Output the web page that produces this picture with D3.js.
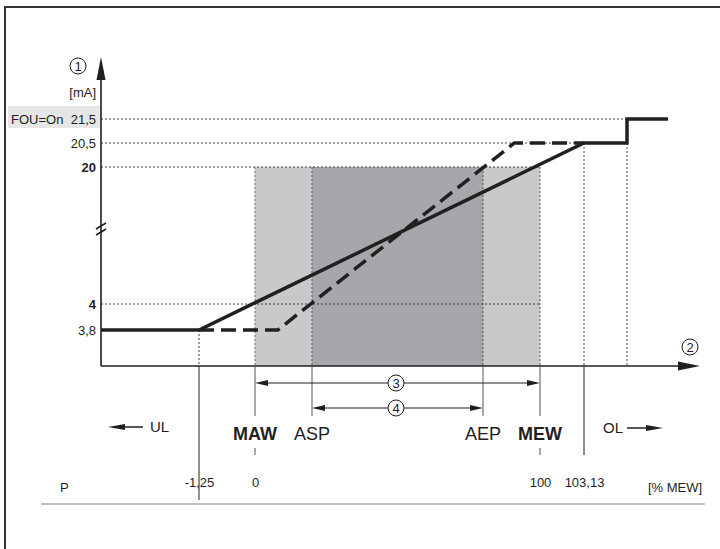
<!DOCTYPE html>
<html><head><meta charset="utf-8">
<script src="https://cdn.jsdelivr.net/npm/d3@7"></script>
<style>
html,body{margin:0;padding:0;background:#fff;}
svg{display:block;}
text{font-family:"Liberation Sans",Arial,sans-serif;fill:#231f20;}
.nar{font-family:"Liberation Sans Narrow","Arial Narrow","Liberation Sans",sans-serif;}
</style></head>
<body>
<svg id="c" width="720" height="549"></svg>
<script>
// ---- data ----
const yTicks = [3.8, 4, 20, 20.5, 21.5];
const yTickLabels = ["3,8", "4", "20", "20,5", "21,5"];
const yTickBold = [false, true, true, false, false];
const pTicks = [-1.25, 0, 100, 103.13];
const pLabels = ["-1,25", "0", "100", "103,13"];
const markerLabels = ["MAW", "ASP", "AEP", "MEW"];
const markerPos = [0, 20, 80, 100];
const markerBold = [true, false, false, true];
// characteristic curves (x in % MEW, schematic; y in mA)
const solidX = [-25, -1.25, 103.13, 110, 110, 115];
const solidY = [3.8, 3.8, 20.5, 20.5, 21.5, 21.5];
const dashedX = [-1.25, 8, 91, 103.13];
const dashedY = [3.8, 3.8, 20.5, 20.5];
const fouStep = 110;

// ---- scales (schematic, piecewise) ----
const x = d3.scaleLinear().domain([-25, -1.25, 0, 100, 103.13, 110, 115, 121])
  .range([101, 199, 255, 540, 584, 627, 668, 700]);
const y = d3.scaleLinear().domain([3.52, 3.8, 4, 20, 20.5, 21.5, 23.6])
  .range([366, 330, 304, 167, 143, 119, 57]);

const svg = d3.select("#c");
const ink = "#231f20";

// frame
svg.append("line").attr("x1",5).attr("x2",720).attr("y1",7).attr("y2",7).attr("stroke","#333").attr("stroke-width",2);
svg.append("line").attr("x1",5).attr("x2",5).attr("y1",6).attr("y2",549).attr("stroke","#333").attr("stroke-width",2);

// shaded ranges
svg.append("rect").attr("x",x(0)).attr("y",y(20)).attr("width",x(100)-x(0)).attr("height",y.range()[0]-y(20)).attr("fill","#c8c9cb");
svg.append("rect").attr("x",x(20)).attr("y",y(20)).attr("width",x(80)-x(20)).attr("height",y.range()[0]-y(20)).attr("fill","#a6a7aa");

const dot = (x1,y1,x2,y2,col) => svg.append("line").attr("x1",x1).attr("y1",y1).attr("x2",x2).attr("y2",y2)
  .attr("stroke",col||"#444").attr("stroke-width",1).attr("stroke-dasharray","2,2");
const y0 = y.range()[0];
// horizontal guide lines
dot(x(-25), y(21.5), x(fouStep), y(21.5));
dot(x(-25), y(20.5), x(103.13), y(20.5));
dot(x(-25), y(20), x(100), y(20));
dot(x(-25), y(4), x(100), y(4));
// vertical guide lines
dot(x(-1.25), y(3.8), x(-1.25), y0);
dot(x(0), y(20), x(0), y0, "#666");
dot(x(20), y(20), x(20), y0, "#555");
dot(x(80), y(20), x(80), y0, "#555");
dot(x(100), y(20), x(100), y0, "#555");
dot(x(103.13), y(20.5), x(103.13), y0);
dot(x(fouStep), y(20.5), x(fouStep), y0);

// FOU label background
svg.append("rect").attr("x",8).attr("y",y(21.5)-13).attr("width",x(-25)-8).attr("height",22).attr("fill","#e6e6e6");

// curves
const line = d3.line().x(d=>x(d[0])).y(d=>y(d[1]));
svg.append("path").datum(dashedX.map((v,i)=>[v,dashedY[i]])).attr("d",line)
  .attr("fill","none").attr("stroke",ink).attr("stroke-width",3.5).attr("stroke-dasharray","15,7");
svg.append("path").datum(solidX.map((v,i)=>[v,solidY[i]])).attr("d",line)
  .attr("fill","none").attr("stroke",ink).attr("stroke-width",3.5).attr("stroke-linejoin","miter");

// axes lines with arrows
svg.append("line").attr("x1",x(-25)).attr("x2",x(-25)).attr("y1",y0).attr("y2",70).attr("stroke",ink).attr("stroke-width",1.6);
svg.append("path").attr("d",`M${x(-25)},57 L${x(-25)-4.5},80 L${x(-25)+4.5},80 Z`).attr("fill",ink);
svg.append("line").attr("x1",x(-25)).attr("x2",688).attr("y1",y0).attr("y2",y0).attr("stroke",ink).attr("stroke-width",1.6);
svg.append("path").attr("d",`M700,${y0} L678,${y0-4.5} L678,${y0+4.5} Z`).attr("fill",ink);
// axis break
[[-3],[3]].forEach(([o])=>{
  svg.append("line").attr("x1",x(-25)-5).attr("y1",232+o).attr("x2",x(-25)+5).attr("y2",226+o).attr("stroke",ink).attr("stroke-width",1.6);
});

// y axis ticks via d3 axis
const yAxis = d3.axisLeft(y).tickValues(yTicks).tickSize(0).tickPadding(5)
  .tickFormat((d,i)=>yTickLabels[i]);
const gy = svg.append("g").attr("transform",`translate(${x(-25)},0)`).call(yAxis);
gy.select(".domain").remove();
gy.selectAll("text").attr("font-size",13).attr("font-family",null)
  .attr("font-weight",(d,i)=>yTickBold[i]?"bold":"normal").style("fill",ink);
svg.append("text").attr("x",11).attr("y",y(21.5)+4.5).attr("font-size",13).text("FOU=On");
svg.append("text").attr("x",96).attr("y",97).attr("font-size",13).attr("text-anchor","end").text("[mA]");

// circled numbers
const circ = (cx,cy,t) => {
  svg.append("circle").attr("cx",cx).attr("cy",cy).attr("r",8).attr("fill","#fff").attr("stroke",ink).attr("stroke-width",1);
  svg.append("text").attr("x",cx).attr("y",cy+4.5).attr("text-anchor","middle").attr("font-size",13).text(t);
};
circ(78,66,"1");
circ(690,347,"2");

// marker lines below axis
markerPos.forEach((p,i)=>{
  svg.append("line").attr("x1",x(p)).attr("x2",x(p)).attr("y1",y0).attr("y2",416).attr("stroke","#555").attr("stroke-width",1);
  if (markerBold[i]) svg.append("line").attr("x1",x(p)).attr("x2",x(p)).attr("y1",448).attr("y2",455).attr("stroke","#555").attr("stroke-width",1);
  svg.append("text").attr("class","nar").attr("x",x(p)).attr("y",440).attr("text-anchor","middle")
    .attr("font-size",18).attr("font-weight",markerBold[i]?"bold":"normal").text(markerLabels[i]);
});
// UL / OL boundaries
svg.append("line").attr("x1",x(-1.25)).attr("x2",x(-1.25)).attr("y1",y0).attr("y2",500).attr("stroke",ink).attr("stroke-width",1);
svg.append("line").attr("x1",x(103.13)).attr("x2",x(103.13)).attr("y1",y0).attr("y2",455).attr("stroke",ink).attr("stroke-width",1);

// range arrows
const rangeArrow = (a,b,yy,t) => {
  const xa=x(a), xb=x(b);
  svg.append("line").attr("x1",xa+10).attr("x2",xb-10).attr("y1",yy).attr("y2",yy).attr("stroke",ink).attr("stroke-width",1);
  svg.append("path").attr("d",`M${xa},${yy} L${xa+13},${yy-3} L${xa+13},${yy+3} Z`).attr("fill",ink);
  svg.append("path").attr("d",`M${xb},${yy} L${xb-13},${yy-3} L${xb-13},${yy+3} Z`).attr("fill",ink);
  circ(396, yy, t);
};
rangeArrow(0,100,383,"3");
rangeArrow(20,80,408,"4");

// UL / OL arrows
svg.append("line").attr("x1",118).attr("x2",143).attr("y1",427).attr("y2",427).attr("stroke",ink).attr("stroke-width",1.5);
svg.append("path").attr("d","M108,427 L125,424 L125,430 Z").attr("fill",ink);
svg.append("text").attr("class","nar").attr("x",150).attr("y",432).attr("font-size",15).text("UL");
svg.append("line").attr("x1",627).attr("x2",652).attr("y1",428).attr("y2",428).attr("stroke",ink).attr("stroke-width",1.5);
svg.append("path").attr("d","M663,428 L646,425 L646,431 Z").attr("fill",ink);
svg.append("text").attr("class","nar").attr("x",603).attr("y",433).attr("font-size",15).text("OL");

// P row
const xAxis = d3.axisBottom(x).tickValues(pTicks).tickSize(0).tickPadding(0).tickFormat((d,i)=>pLabels[i]);
const gx = svg.append("g").attr("transform","translate(0,478)").call(xAxis);
gx.select(".domain").remove();
gx.selectAll("text").attr("font-size",13).attr("font-family",null).style("fill",ink);
svg.append("text").attr("x",60).attr("y",492).attr("font-size",13).text("P");
svg.append("text").attr("x",648).attr("y",492).attr("font-size",13).text("[% MEW]");
svg.append("line").attr("x1",41).attr("x2",705).attr("y1",504).attr("y2",504).attr("stroke","#aaa").attr("stroke-width",1.5);
</script>
</body></html>
